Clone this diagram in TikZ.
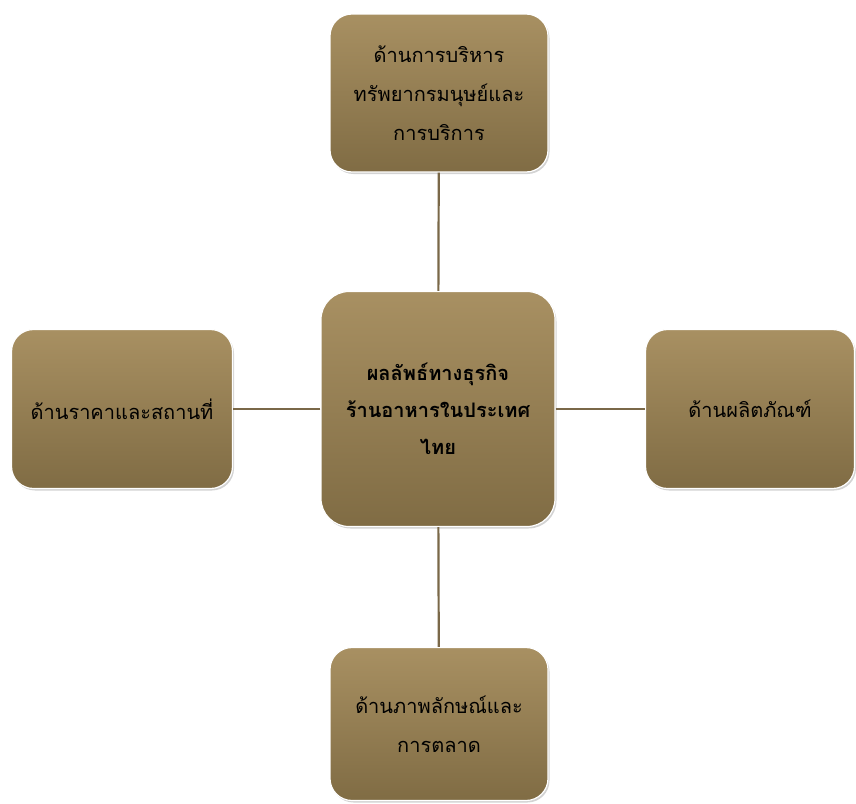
\documentclass[tikz,border=0pt]{standalone}
\usepackage{fontspec}
\newfontfamily\thaifont[Script=Thai]{Loma}
\usetikzlibrary{positioning, shadows}

\definecolor{goldtop}{RGB}{168,144,98}
\definecolor{goldbot}{RGB}{128,108,68}
\definecolor{linkbrown}{RGB}{122,104,72}

\tikzset{
  topicbox/.style = {draw=white, line width=1.2pt, rounded corners=22pt,
    top color=goldtop, bottom color=goldbot, align=center, text=black,
    font=\thaifont\fontsize{20}{39}\selectfont, inner sep=0pt,
    drop shadow={shadow xshift=1.5pt, shadow yshift=-2pt, opacity=0.35}},
  link/.style = {draw=linkbrown, line width=2.2pt}
}

\begin{document}
\begin{tikzpicture}[x=1pt, y=-1pt]
  \useasboundingbox (0, 0) rectangle (856, 803);		% 余白

  % 中心
  \node[topicbox, rounded corners=28pt, minimum width=234pt, minimum height=235pt,
        font=\thaifont\bfseries\fontsize{20}{37}\selectfont] (core) at (438, 409)
    {ผลลัพธ์ทางธุรกิจ\\ร้านอาหารในประเทศ\\ไทย};

  % 周り
  \node[topicbox, minimum width=218pt, minimum height=158pt] (hr) at (439, 93)
    {ด้านการบริหาร\\ทรัพยากรมนุษย์และ\\การบริการ};
  \node[topicbox, minimum width=221pt, minimum height=159pt] (price) at (122, 409)
    {ด้านราคาและสถานที่};
  \node[topicbox, minimum width=209pt, minimum height=159pt] (product) at (750, 409)
    {ด้านผลิตภัณฑ์};
  \node[topicbox, minimum width=218pt, minimum height=153pt] (image) at (439, 724)
    {ด้านภาพลักษณ์และ\\การตลาด};

  % 線
  \draw[link] (core) -- (hr);
  \draw[link] (core) -- (price);
  \draw[link] (core) -- (product);
  \draw[link] (core) -- (image);
\end{tikzpicture}
\end{document}
